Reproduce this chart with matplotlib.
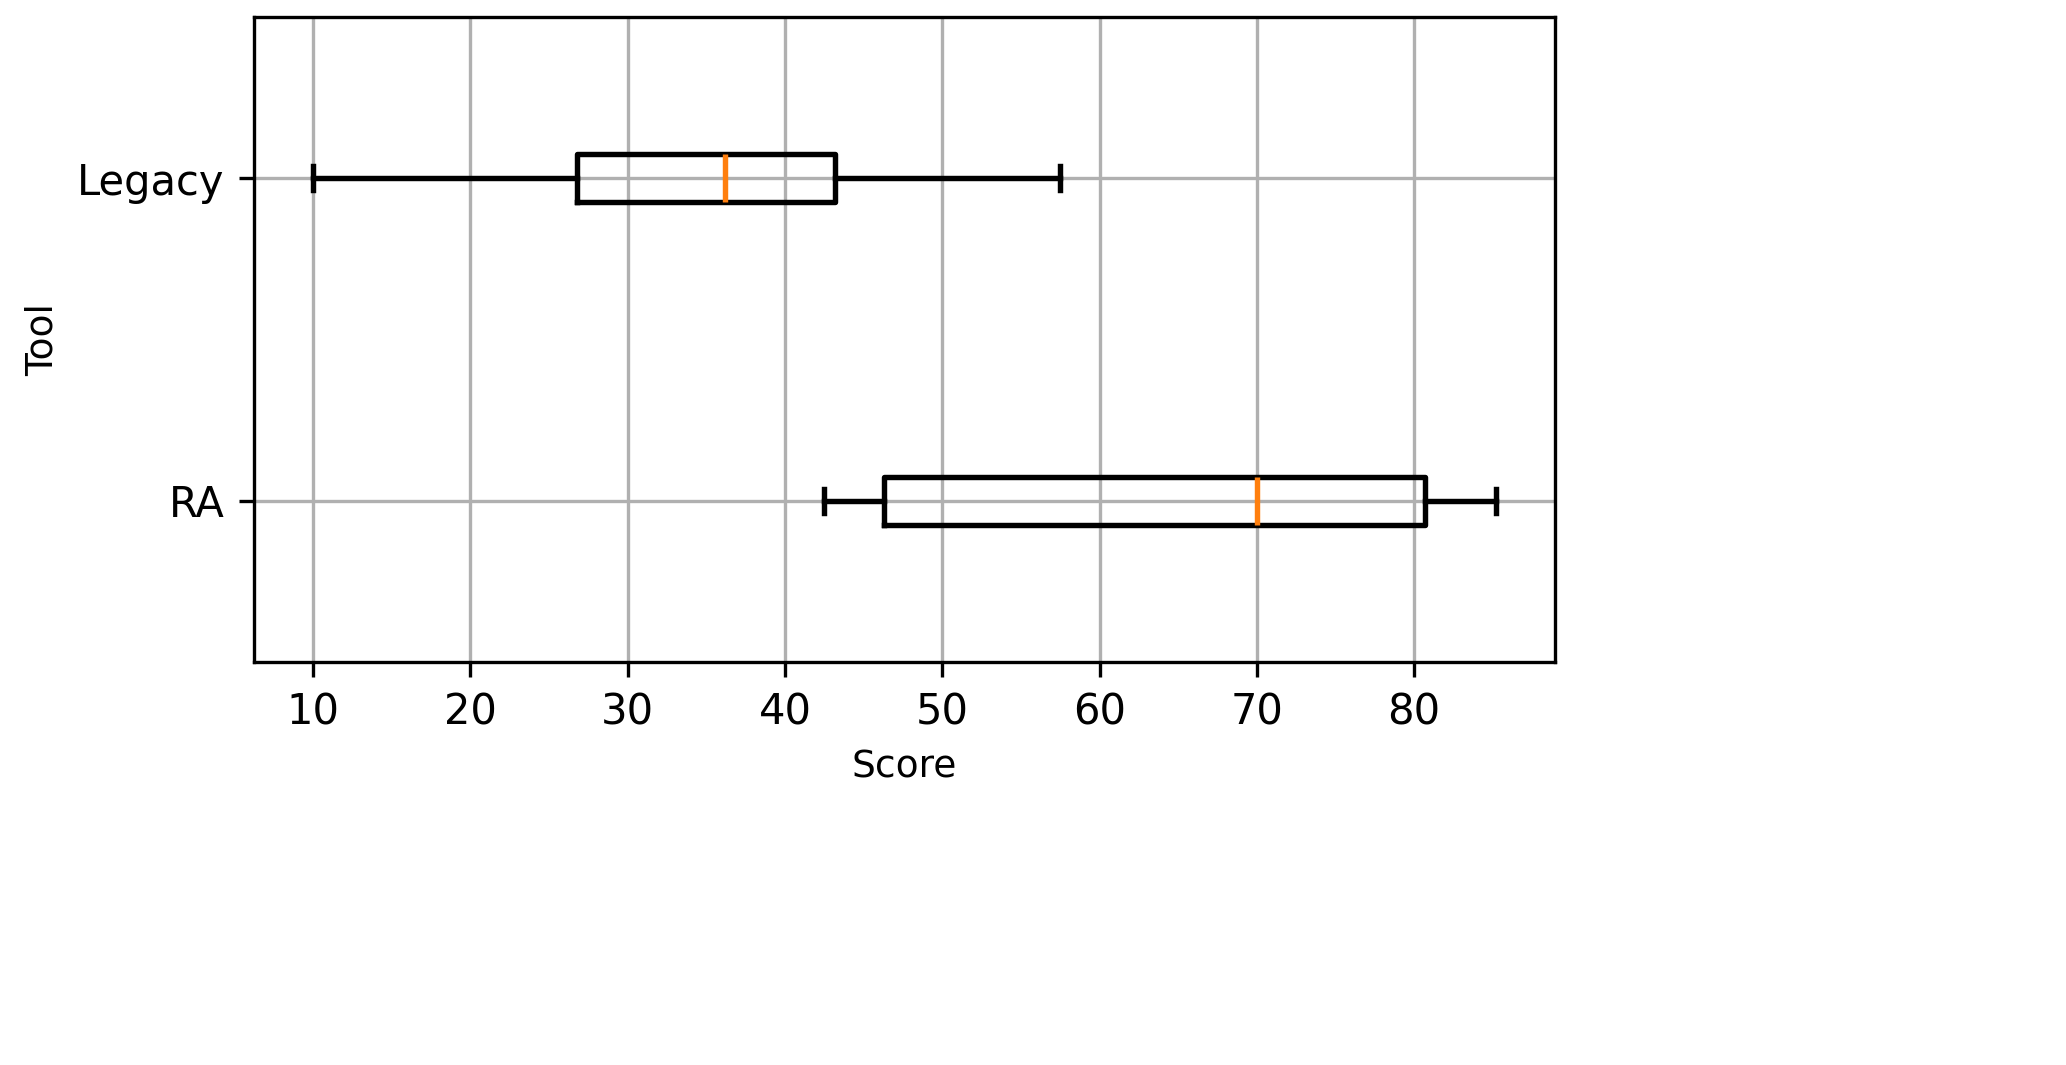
import matplotlib.pyplot as plt
from matplotlib.ticker import MultipleLocator

tools = ["RA", "Legacy"]
whislo = [42.5, 10.0]
q1 = [46.3, 26.8]
med = [70.0, 36.2]
q3 = [80.7, 43.2]
whishi = [85.2, 57.5]

stats = [dict(label=t, whislo=a, q1=b, med=c, q3=d, whishi=e, fliers=[])
         for t, a, b, c, d, e in zip(tools, whislo, q1, med, q3, whishi)]

fig, ax = plt.subplots(figsize=(2066 / 300, 1065 / 300), dpi=300)
ax.bxp(stats, vert=False, widths=0.15,
       boxprops=dict(linewidth=1.3), whiskerprops=dict(linewidth=1.3),
       capprops=dict(linewidth=1.3), medianprops=dict(linewidth=1.3, color='#ff7f0e'))
ax.grid(True)
ax.set_axisbelow(True)
ax.xaxis.set_major_locator(MultipleLocator(10))
ax.set_xlabel("Score", fontsize=9)
ax.set_ylabel("Tool", fontsize=9)
ax.tick_params(labelsize=10)
ax.set_position([254 / 2066, 1 - 662 / 1065, (1555 - 254) / 2066, (662 - 17) / 1065])
fig.savefig("out.png", dpi=300)
